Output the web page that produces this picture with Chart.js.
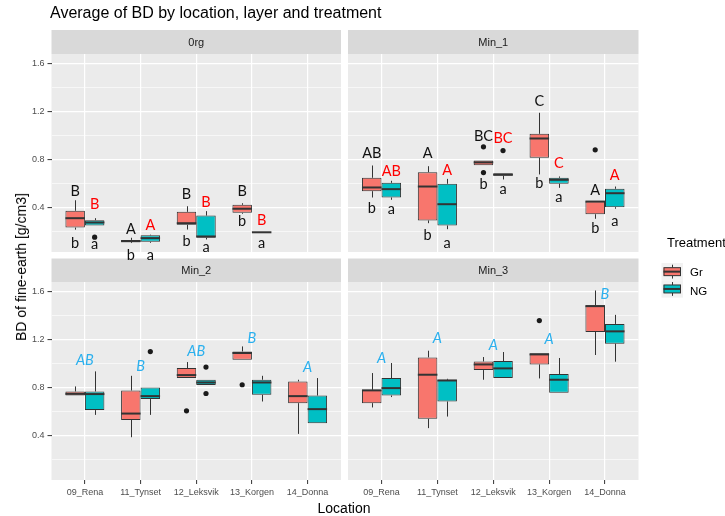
<!DOCTYPE html>
<html>
<head>
<meta charset="utf-8">
<script src="https://cdn.jsdelivr.net/npm/chart.js@4.4.1/dist/chart.umd.min.js"></script>
<style>
  html, body { margin: 0; padding: 0; background: #fff; }
  #wrap { position: relative; width: 725px; height: 516px; overflow: hidden;
          font-family: "Liberation Sans", Arial, sans-serif; }
  canvas { position: absolute; left: 0; top: 0; }
  .txt { position: absolute; white-space: nowrap; color: #000; line-height: 16px; }
</style>
</head>
<body>
<div id="wrap">
  <canvas id="pBL" width="725" height="516"></canvas>
  <canvas id="pBR" width="725" height="516"></canvas>
  <canvas id="pTL" width="725" height="516"></canvas>
  <canvas id="pTR" width="725" height="516"></canvas>
  <div class="txt" style="left:50px; top:4px; font-size:16px; line-height:18px;">Average of BD by location, layer and treatment</div>
  <div class="txt" style="left:344px; top:500px; font-size:14px; transform:translateX(-50%);">Location</div>
  <div class="txt" style="left:21px; top:267px; font-size:14px; transform:translate(-50%,-50%) rotate(-90deg);">BD of fine-earth [g/cm3]</div>
  <div class="txt" style="left:667px; top:235px; font-size:13px;">Treatment</div>
  <div class="txt" style="left:690px; top:264px; font-size:11.5px;">Gr</div>
  <div class="txt" style="left:690px; top:283px; font-size:11.5px;">NG</div>
</div>
<script>
// categories and ticks
const locations = ["09_Rena", "11_Tynset", "12_Leksvik", "13_Korgen", "14_Donna"];
const treatments = ["Gr", "NG"];
const layers = ["0rg", "Min_1", "Min_2", "Min_3"];
const yTicks = [0.2, 0.4, 0.6, 0.8, 1.0, 1.2, 1.4, 1.6];

// box stats per location: [lower whisker, Q1, median, Q3, upper whisker]
const orgGr = [
  [0.212, 0.229, 0.308, 0.370, 0.458],
  [0.100, 0.107, 0.116, 0.126, 0.144],
  [0.213, 0.253, 0.266, 0.361, 0.408],
  [0.345, 0.353, 0.387, 0.420, 0.433],
  null
];
const orgNg = [
  [0.247, 0.247, 0.272, 0.291, 0.308],
  [0.102, 0.110, 0.141, 0.165, 0.170],
  [0.130, 0.144, 0.155, 0.330, 0.367],
  [0.188, 0.189, 0.190, 0.191, 0.192],
  null
];
const min1Gr = [
  [0.481, 0.534, 0.565, 0.646, 0.749],
  [0.266, 0.289, 0.573, 0.693, 0.743],
  [0.750, 0.750, 0.775, 0.790, 0.790],
  [0.674, 0.813, 0.975, 1.014, 1.190],
  [0.303, 0.341, 0.447, 0.450, 0.450]
];
const min1Ng = [
  [0.462, 0.481, 0.551, 0.604, 0.621],
  [0.216, 0.247, 0.425, 0.596, 0.637],
  [0.632, 0.663, 0.672, 0.684, 0.684],
  [0.562, 0.596, 0.629, 0.646, 0.657],
  [0.387, 0.400, 0.517, 0.554, 0.573]
];
const min2Gr = [
  [0.732, 0.732, 0.746, 0.766, 0.808],
  [0.383, 0.528, 0.581, 0.774, 0.897],
  [0.878, 0.878, 0.903, 0.962, 1.012],
  [1.032, 1.032, 1.088, 1.101, 1.143],
  [0.411, 0.668, 0.727, 0.850, 0.864]
];
const min2Ng = [
  [0.570, 0.610, 0.744, 0.766, 0.934],
  [0.570, 0.702, 0.727, 0.800, 0.800],
  [0.819, 0.819, 0.841, 0.864, 0.864],
  [0.682, 0.738, 0.841, 0.864, 0.897],
  [0.500, 0.500, 0.618, 0.732, 0.878]
];
const min3Gr = [
  [0.632, 0.668, 0.775, 0.780, 0.920],
  [0.459, 0.537, 0.906, 1.051, 1.107],
  [0.864, 0.945, 0.992, 1.017, 1.054],
  [0.875, 0.992, 1.076, 1.085, 1.085],
  [1.071, 1.264, 1.480, 1.487, 1.611]
];
const min3Ng = [
  [0.719, 0.732, 0.794, 0.878, 1.004],
  [0.556, 0.682, 0.858, 0.864, 0.872],
  [0.878, 0.878, 0.959, 1.021, 1.096],
  [0.755, 0.755, 0.864, 0.912, 1.046],
  [1.015, 1.166, 1.269, 1.331, 1.407]
];

// outliers: [location index, value]
const orgGrOut = [];
const orgNgOut = [[0, 0.149]];
const min1GrOut = [[2, 0.905], [2, 0.690], [4, 0.880]];
const min1NgOut = [[2, 0.874]];
const min2GrOut = [[2, 0.604], [3, 0.822]];
const min2NgOut = [[1, 1.100], [2, 0.970], [2, 0.749]];
const min3GrOut = [[3, 1.359]];
const min3NgOut = [];

// significance letters (text + height in data units)
const orgGrUp = ["B", "A", "B", "B", ""];
const orgGrUpY = [0.534, 0.213, 0.504, 0.531, null];
const orgNgUp = ["B", "A", "B", "B", ""];
const orgNgUpY = [0.428, 0.247, 0.442, 0.289, null];
const orgGrLow = ["b", "b", "b", "b", ""];
const orgGrLowY = [0.099, -0.004, 0.113, 0.280, null];
const orgNgLow = ["a", "a", "a", "a", ""];
const orgNgLowY = [0.088, -0.004, 0.065, 0.094, null];

const min1GrUp = ["AB", "A", "BC", "C", "A"];
const min1GrUpY = [0.847, 0.847, 0.992, 1.287, 0.540];
const min1NgUp = ["AB", "A", "BC", "C", "A"];
const min1NgUpY = [0.701, 0.707, 0.977, 0.763, 0.665];
const min1GrLow = ["b", "b", "b", "b", "b"];
const min1GrLowY = [0.392, 0.163, 0.590, 0.596, 0.219];
const min1NgLow = ["a", "a", "a", "a", "a"];
const min1NgLowY = [0.381, 0.099, 0.546, 0.484, 0.283];

const min2Let = ["AB", "B", "AB", "B", "A"];
const min2LetY = [1.023, 0.976, 1.101, 1.214, 0.967];
const min3Let = ["A", "A", "A", "A", "B"];
const min3LetY = [1.040, 1.214, 1.152, 1.200, 1.583];

const W = 725, H = 516;
const yMin = 0.025, yMax = 1.682;
const fills = ["#F8766D", "#00BFC4"];
const lineCol = "#333333";
const FONT = '"Liberation Sans", Arial, sans-serif';

function isMajor(v) {
  return Math.round(v * 10) % 4 === 0;
}

function boxData(stats) {
  return stats
    .map((s, i) => (s ? { x: i + 1, y: [s[1], s[3]], s: s } : null))
    .filter(Boolean);
}

function elFor(chart, d, loc) {
  const ds = chart.data.datasets[d];
  const j = ds.data.findIndex((p) => p.x === loc + 1);
  return j < 0 ? null : chart.getDatasetMeta(d).data[j];
}

// grey panel + strip on top
function panelBg(strip, stripH) {
  return {
    id: "panelBg",
    beforeDraw(chart) {
      const { ctx, chartArea: a } = chart;
      ctx.save();
      ctx.fillStyle = "#EBEBEB";
      ctx.fillRect(a.left, a.top, a.width, a.height);
      ctx.fillStyle = "#D9D9D9";
      ctx.fillRect(a.left, a.top - stripH, a.width, stripH);
      ctx.fillStyle = "#1A1A1A";
      ctx.font = "11px " + FONT;
      ctx.textAlign = "center";
      ctx.textBaseline = "middle";
      ctx.fillText(strip, (a.left + a.right) / 2, a.top - stripH / 2 + 1);
      ctx.restore();
    },
  };
}

// whiskers, medians and outliers on top of the floating bars
function drawParts(chart, part) {
  const ctx = chart.ctx;
  const ys = chart.scales.y;
  ctx.save();
  chart.data.datasets.forEach((ds, d) => {
    const meta = chart.getDatasetMeta(d);
    meta.data.forEach((el, j) => {
      const s = ds.data[j].s;
      const x = Math.round(el.x) + 0.5;
      ctx.strokeStyle = lineCol;
      ctx.beginPath();
      if (part === "whisker") {
        ctx.lineWidth = 1;
        ctx.moveTo(x, ys.getPixelForValue(s[3]));
        ctx.lineTo(x, ys.getPixelForValue(s[4]));
        ctx.moveTo(x, ys.getPixelForValue(s[1]));
        ctx.lineTo(x, ys.getPixelForValue(s[0]));
      } else {
        ctx.lineWidth = 2;
        const ym = ys.getPixelForValue(s[2]);
        ctx.moveTo(el.x - el.width / 2, ym);
        ctx.lineTo(el.x + el.width / 2, ym);
      }
      ctx.stroke();
    });
    if (part === "median") {
      ds.outliers.forEach(([loc, v]) => {
        const el = elFor(chart, d, loc);
        ctx.fillStyle = "#1A1A1A";
        ctx.beginPath();
        ctx.arc(el.x, ys.getPixelForValue(v), 2.6, 0, Math.PI * 2);
        ctx.fill();
      });
    }
  });
  ctx.restore();
}

const boxParts = {
  id: "boxParts",
  beforeDatasetsDraw(chart) { drawParts(chart, "whisker"); },
  afterDatasetsDraw(chart) { drawParts(chart, "median"); },
};

function letterPlugin(items) {
  return {
    id: "letters",
    afterDraw(chart) {
      const ctx = chart.ctx;
      const xs = chart.scales.x, ys = chart.scales.y;
      ctx.save();
      ctx.textAlign = "center";
      ctx.textBaseline = "middle";
      items.forEach((it) => {
        let x = xs.getPixelForValue(it.loc + 1);
        if (it.slot !== null) {
          const el = elFor(chart, it.slot, it.loc);
          if (!el) return;
          x = el.x;
        }
        ctx.font = (it.italic ? "italic " : "") + "14.5px Lato, sans-serif";
        ctx.fillStyle = it.color;
        ctx.fillText(it.text, x, ys.getPixelForValue(it.y));
      });
      ctx.restore();
    },
  };
}

function pairLetters(list) {
  // list of [texts, ys, slot, color]
  const items = [];
  list.forEach(([texts, yv, slot, color]) => {
    texts.forEach((t, i) => {
      if (t) items.push({ text: t, loc: i, slot: slot, y: yv[i], color: color });
    });
  });
  return items;
}

function centerLetters(texts, yv) {
  return texts.map((t, i) => ({ text: t, loc: i, slot: null, y: yv[i], color: "#2BB0EE", italic: true }));
}

// legend keys drawn as small boxplots
const legendKeys = {
  id: "legendKeys",
  afterDraw(chart) {
    const ctx = chart.ctx;
    ctx.save();
    treatments.forEach((t, i) => {
      const kx = 661.5, ky = 263 + i * 17.3, kw = 21.5, kh = 17.3;
      ctx.fillStyle = "#F2F2F2";
      ctx.fillRect(kx, ky, kw, kh);
      const cx = Math.round(kx + kw / 2) + 0.5;
      ctx.strokeStyle = lineCol;
      ctx.lineWidth = 1;
      ctx.beginPath();
      ctx.moveTo(cx, ky + kh * 0.1);
      ctx.lineTo(cx, ky + kh * 0.27);
      ctx.moveTo(cx, ky + kh * 0.73);
      ctx.lineTo(cx, ky + kh * 0.9);
      ctx.stroke();
      ctx.fillStyle = fills[i];
      ctx.fillRect(kx + 2, ky + kh * 0.27, kw - 4, kh * 0.46);
      ctx.strokeRect(kx + 2.5, ky + kh * 0.27, kw - 5, kh * 0.46);
      ctx.lineWidth = 2;
      ctx.beginPath();
      ctx.moveTo(kx + 2, ky + kh / 2);
      ctx.lineTo(kx + kw - 2, ky + kh / 2);
      ctx.stroke();
    });
    ctx.restore();
  },
};

function makePanel(p) {
  const yw = p.showY ? p.left : 0;
  const xh = p.showX ? 20 : 0;
  const dsCommon = {
    borderColor: lineCol,
    borderWidth: 1,
    borderSkipped: false,
    categoryPercentage: 0.7,
    barPercentage: 1.0,
  };
  const plugins = [panelBg(p.strip, p.stripH), boxParts, letterPlugin(p.letters)];
  if (p.legend) plugins.push(legendKeys);
  return new Chart(document.getElementById(p.id), {
    type: "bar",
    data: {
      datasets: [
        Object.assign({ label: treatments[0], data: boxData(p.gr), outliers: p.grOut, backgroundColor: fills[0] }, dsCommon),
        Object.assign({ label: treatments[1], data: boxData(p.ng), outliers: p.ngOut, backgroundColor: fills[1] }, dsCommon),
      ],
    },
    options: {
      responsive: false,
      animation: false,
      devicePixelRatio: 1,
      events: [],
      layout: {
        padding: { left: p.left - yw, top: p.top, right: W - p.right, bottom: H - p.bottom - xh },
      },
      plugins: { legend: { display: false }, tooltip: { enabled: false } },
      scales: {
        x: {
          type: "linear",
          min: 0.4,
          max: 5.6,
          offset: false,
          afterBuildTicks: (s) => { s.ticks = locations.map((_, i) => ({ value: i + 1 })); },
          afterFit: (s) => { s.height = xh; },
          border: { display: false },
          grid: {
            offset: false,
            color: "#FFFFFF",
            lineWidth: 1.2,
            drawTicks: p.showX,
            tickLength: 4,
            tickColor: lineCol,
            tickWidth: 1,
          },
          ticks: {
            display: p.showX,
            autoSkip: false,
            maxRotation: 0,
            padding: 3,
            color: "#4D4D4D",
            font: { family: FONT, size: 9 },
            callback: (v) => locations[v - 1],
          },
        },
        y: {
          type: "linear",
          min: yMin,
          max: yMax,
          afterBuildTicks: (s) => { s.ticks = yTicks.map((v) => ({ value: v })); },
          afterFit: (s) => { s.width = yw; },
          border: { display: false },
          grid: {
            color: "#FFFFFF",
            lineWidth: (c) => (isMajor(c.tick.value) ? 1.2 : 0.6),
            drawTicks: p.showY,
            tickLength: 4,
            tickColor: (c) => (isMajor(c.tick.value) ? lineCol : "rgba(0,0,0,0)"),
            tickWidth: 1,
          },
          ticks: {
            display: p.showY,
            autoSkip: false,
            padding: 3,
            color: "#4D4D4D",
            font: { family: FONT, size: 9 },
            callback: (v) => (isMajor(v) ? v.toFixed(1) : ""),
          },
        },
      },
    },
    plugins: plugins,
  });
}

makePanel({
  id: "pBL", left: 51.5, top: 282, right: 341, bottom: 480, strip: layers[2], stripH: 23.5,
  gr: min2Gr, ng: min2Ng, grOut: min2GrOut, ngOut: min2NgOut,
  letters: centerLetters(min2Let, min2LetY), showX: true, showY: true,
});
makePanel({
  id: "pBR", left: 348, top: 282, right: 638.5, bottom: 480, strip: layers[3], stripH: 23.5,
  gr: min3Gr, ng: min3Ng, grOut: min3GrOut, ngOut: min3NgOut,
  letters: centerLetters(min3Let, min3LetY), showX: true, showY: false, legend: true,
});
makePanel({
  id: "pTL", left: 51.5, top: 54, right: 341, bottom: 252, strip: layers[0], stripH: 24,
  gr: orgGr, ng: orgNg, grOut: orgGrOut, ngOut: orgNgOut,
  letters: pairLetters([
    [orgGrUp, orgGrUpY, 0, "#111111"],
    [orgNgUp, orgNgUpY, 1, "#FF0000"],
    [orgGrLow, orgGrLowY, 0, "#111111"],
    [orgNgLow, orgNgLowY, 1, "#111111"],
  ]),
  showX: false, showY: true,
});
makePanel({
  id: "pTR", left: 348, top: 54, right: 638.5, bottom: 252, strip: layers[1], stripH: 24,
  gr: min1Gr, ng: min1Ng, grOut: min1GrOut, ngOut: min1NgOut,
  letters: pairLetters([
    [min1GrUp, min1GrUpY, 0, "#111111"],
    [min1NgUp, min1NgUpY, 1, "#FF0000"],
    [min1GrLow, min1GrLowY, 0, "#111111"],
    [min1NgLow, min1NgLowY, 1, "#111111"],
  ]),
  showX: false, showY: false,
});
</script>
</body>
</html>
